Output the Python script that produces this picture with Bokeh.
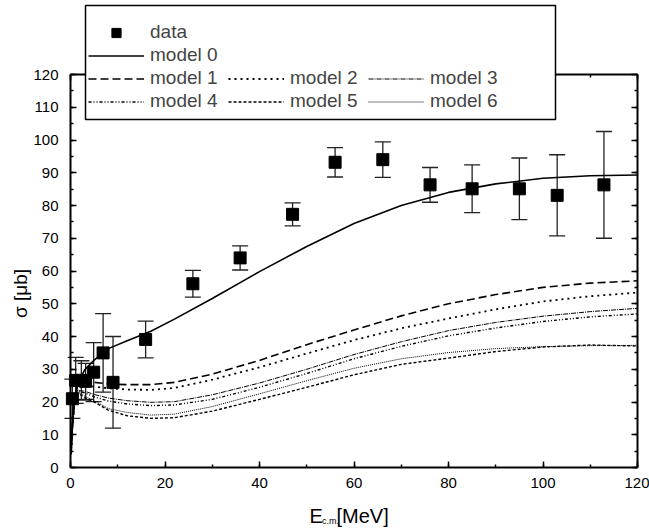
from math import pi
from bokeh.plotting import figure
from bokeh.models import (Range1d, LinearAxis, SingleIntervalTicker, Whisker, TeeHead,
                          ColumnDataSource, Legend, LegendItem, Label, BoxAnnotation,
                          CustomJSTickFormatter)
from bokeh.embed import file_html
from bokeh.resources import INLINE

# ---------------- data ----------------
data_x = [0.4, 1.1, 2.3, 3.2, 4.9, 6.9, 9.0, 15.9, 25.9, 35.9, 47.0, 56.0, 66.1, 76.1, 85.0, 95.0, 103.0, 112.9]
data_y = [21.0, 26.6, 26.6, 26.3, 29.1, 35.0, 26.0, 39.1, 56.1, 64.0, 77.3, 93.2, 94.0, 86.3, 85.1, 85.1, 83.1, 86.3]
data_err = [6.0, 7.0, 6.0, 5.5, 9.0, 12.0, 14.0, 5.6, 4.1, 3.7, 3.5, 4.5, 5.4, 5.3, 7.3, 9.4, 12.4, 16.3]

model_x = [0.15, 0.4, 0.8, 1.5, 3, 5, 8, 12, 17, 22, 30, 40, 50, 60, 70, 80, 90, 100, 110, 120]
model0 = [6, 15, 21, 25.5, 29.8, 32.8, 36.3, 38.7, 41.6, 45.3, 51.6, 59.8, 67.5, 74.5, 80.0, 84.0, 86.6, 88.3, 89.1, 89.3]
model1 = [5, 13, 20, 25, 26.2, 26, 25.5, 25.3, 25.3, 26, 28.5, 32.7, 37.5, 42, 46.3, 50, 52.8, 55, 56.3, 57]
model2 = [5, 12.5, 19.5, 24, 25, 24.7, 24.2, 23.8, 23.7, 24.3, 26.8, 30.6, 34.8, 38.9, 42.5, 45.5, 48.3, 50.7, 52.3, 53.4]
model3 = [4.5, 12, 19, 23.5, 23.3, 22.3, 21.2, 20.4, 19.9, 20.1, 22.2, 25.8, 30, 34.5, 38.4, 41.8, 44.3, 46.2, 47.6, 48.6]
model4 = [4.5, 12, 19, 23.2, 22.8, 21.6, 20.3, 19.4, 18.9, 19.1, 20.8, 24.5, 28.7, 33.2, 37, 40.2, 42.6, 44.6, 46, 46.9]
model5 = [4, 11.5, 18.5, 22.8, 21.3, 20, 17.5, 15.8, 15, 15.2, 17.2, 20.8, 24.5, 28.3, 31.5, 33.4, 35.4, 36.8, 37.4, 37.1]
model6 = [4, 11.5, 18.5, 23, 21.8, 20.4, 18, 16.8, 16, 16.3, 18.6, 22.5, 26.5, 30.3, 33.2, 35.1, 36.3, 36.9, 37.2, 37.3]

x_lim = (0, 120)
y_lim = (0, 120)
x_ticks_interval = 20
y_ticks_interval = 10
FONT = "Liberation Sans"

# ---------------- layout (pixels) ----------------
W, H = 649, 531
PX_L, PX_R, PY_T, PY_B = 70, 637, 74, 467   # where the axes box sits on the canvas
sx = (PX_R - PX_L) / (x_lim[1] - x_lim[0])
sy = (PY_B - PY_T) / (y_lim[1] - y_lim[0])
xr = Range1d(x_lim[0] - PX_L / sx, x_lim[1] + (W - PX_R) / sx)
yr = Range1d(y_lim[0] - (H - PY_B) / sy, y_lim[1] + PY_T / sy)

p = figure(width=W, height=H, x_range=xr, y_range=yr, title=None,
           output_backend="svg", toolbar_location=None, x_axis_type=None, y_axis_type=None,
           min_border=0, min_border_left=0, min_border_right=0, min_border_top=0,
           min_border_bottom=0)
p.outline_line_color = None
p.background_fill_color = "white"
p.border_fill_color = "white"


def mk_axis(interval, loc, bounds, show, standoff=10):
    ax = LinearAxis(
        ticker=SingleIntervalTicker(interval=interval, num_minor_ticks=2),
        fixed_location=loc, bounds=bounds,
        axis_line_width=2, axis_line_color="black",
        major_tick_in=6, major_tick_out=0, minor_tick_in=3, minor_tick_out=0,
        major_tick_line_width=1.5, minor_tick_line_width=1.5,
        major_tick_line_color="black", minor_tick_line_color="black",
        major_label_text_font=FONT, major_label_text_font_size="15px",
        major_label_text_color="black", major_label_standoff=standoff)
    if not show:
        ax.formatter = CustomJSTickFormatter(code="return ''")
    return ax


p.add_layout(mk_axis(x_ticks_interval, y_lim[0], x_lim, True, 10), "below")
p.add_layout(mk_axis(y_ticks_interval, x_lim[0], y_lim, True, 12), "left")
p.add_layout(mk_axis(y_ticks_interval, x_lim[1], y_lim, False), "right")
p.add_layout(mk_axis(x_ticks_interval, y_lim[1], x_lim, False), "above")

# error bars + data
lo = [y - e for y, e in zip(data_y, data_err)]
hi = [y + e for y, e in zip(data_y, data_err)]
src = ColumnDataSource(dict(x=data_x, y=data_y, lo=lo, hi=hi))
wh = Whisker(base="x", lower="lo", upper="hi", source=src, dimension="height",
             line_color="#222222", line_width=1.3,
             lower_head=TeeHead(size=16, line_width=1.3, line_color="#222222"),
             upper_head=TeeHead(size=16, line_width=1.3, line_color="#222222"))
p.add_layout(wh)

styles = [
    (model0, "solid", 1.6),
    (model1, "8 4", 1.6),
    (model2, "2 4", 1.8),
    (model3, "5 1 1 1", 1.0),
    (model4, "3 2 1 2 1 2", 1.4),
    (model5, "3 2", 1.4),
    (model6, "1 1", 1.0),
]
rs = []
for ys, dash, lw in styles:
    rs.append(p.line(model_x, ys, line_color="black", line_width=lw, line_dash=dash))

sq = p.scatter("x", "y", source=src, marker="square", size=12, color="black")

blank = p.line([], [], line_alpha=0)

# legend frame (screen units: from canvas bottom-left)
box = BoxAnnotation(left=85, right=555, bottom=H - 119, top=H - 5,
                    left_units="screen", right_units="screen",
                    bottom_units="screen", top_units="screen",
                    fill_color="white", fill_alpha=1.0,
                    line_color="black", line_width=1.5, line_alpha=1.0)
p.add_layout(box)

names = ["model %d" % i for i in range(7)]
B = lambda: LegendItem(label=" ", renderers=[blank])
items = [LegendItem(label="data", renderers=[sq]), B(), B(),
         LegendItem(label=names[0], renderers=[rs[0]]), B(), B(),
         LegendItem(label=names[1], renderers=[rs[1]]),
         LegendItem(label=names[2], renderers=[rs[2]]),
         LegendItem(label=names[3], renderers=[rs[3]]),
         LegendItem(label=names[4], renderers=[rs[4]]),
         LegendItem(label=names[5], renderers=[rs[5]]),
         LegendItem(label=names[6], renderers=[rs[6]])]
legend = Legend(items=items, orientation="horizontal", ncols=3,
                location=(83, H - 117.5), glyph_width=56, glyph_height=23,
                label_width=78, label_height=23, label_standoff=6, spacing=0,
                padding=5, margin=0, label_text_font=FONT, label_text_font_size="19px",
                border_line_alpha=0, background_fill_alpha=0)
p.add_layout(legend)

# axis titles
p.add_layout(Label(x=20, y=H - 293, x_units="screen", y_units="screen", text="σ [μb]",
                   angle=pi / 2, text_align="center", text_baseline="middle",
                   text_font=FONT, text_font_size="19px", text_color="black"))
p.add_layout(Label(x=309, y=H - 515, x_units="screen", y_units="screen", text="E",
                   text_align="left", text_baseline="alphabetic", text_font=FONT,
                   text_font_size="20px", text_color="black"))
p.add_layout(Label(x=321.5, y=H - 520, x_units="screen", y_units="screen", text="c.m.",
                   text_align="left", text_baseline="alphabetic", text_font=FONT,
                   text_font_size="9px", text_color="black"))
p.add_layout(Label(x=336, y=H - 515, x_units="screen", y_units="screen", text="[MeV]",
                   text_align="left", text_baseline="alphabetic", text_font=FONT,
                   text_font_size="20px", text_color="black"))

open("out.html", "w").write(file_html(p, INLINE))
